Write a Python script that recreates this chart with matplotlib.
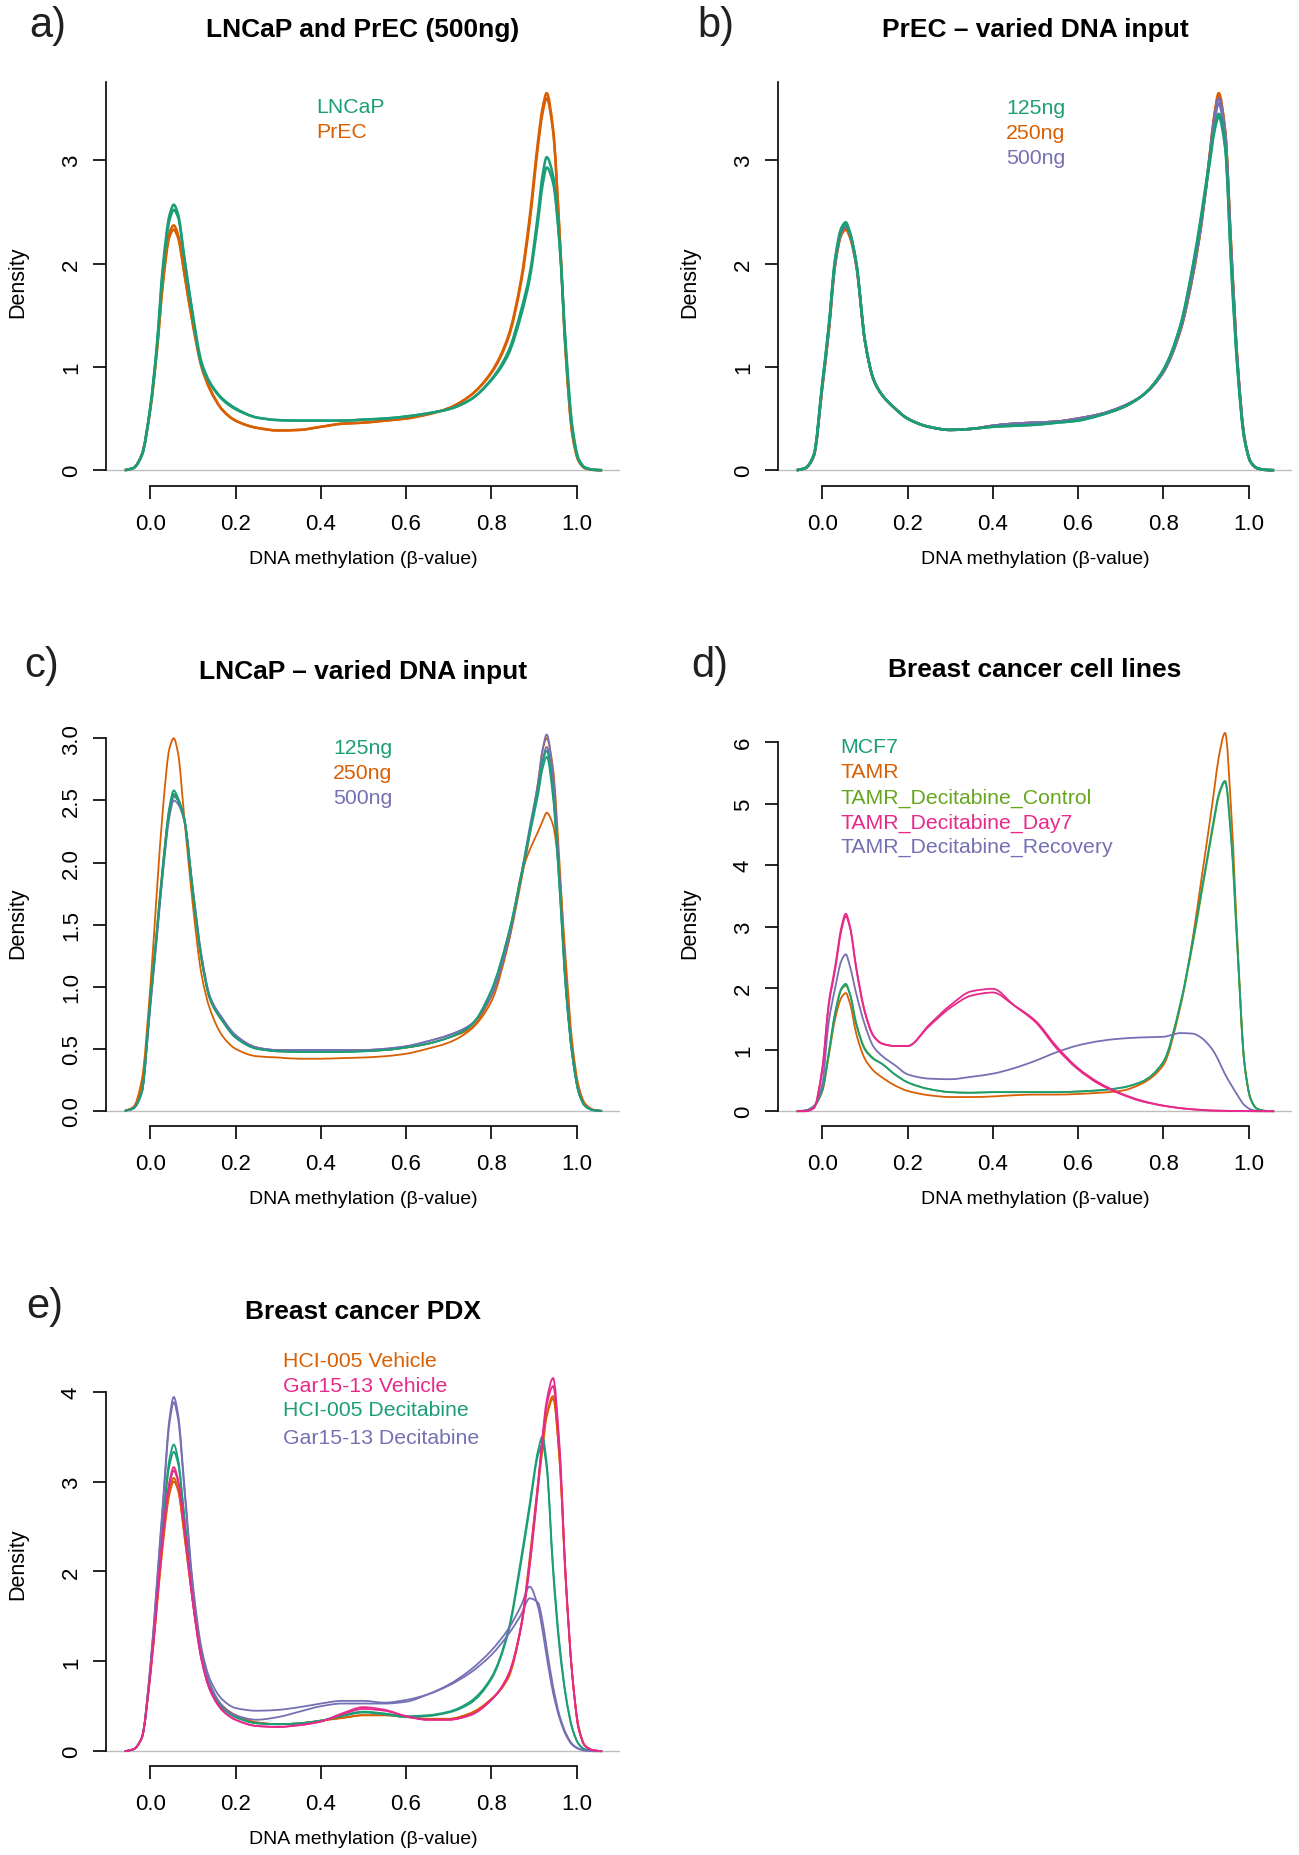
import numpy as np
import matplotlib.pyplot as plt
from matplotlib.path import Path
from matplotlib.patches import PathPatch

plt.rcParams['font.family'] = ['Liberation Sans', 'DejaVu Sans']

# beta-value grid shared by every density curve
beta = [-0.06, -0.04, -0.02, 0.0, 0.015, 0.03, 0.045, 0.055, 0.065, 0.08,
        0.1, 0.12, 0.14, 0.17, 0.2, 0.25, 0.3, 0.35, 0.4, 0.45,
        0.5, 0.55, 0.6, 0.65, 0.7, 0.75, 0.8, 0.84, 0.87, 0.89,
        0.91, 0.92, 0.93, 0.945, 0.96, 0.975, 0.99, 1.005, 1.02, 1.04, 1.06]

# a) LNCaP and PrEC (500ng)
a_lncap_1 = [0, 0.02, 0.15, 0.62, 1.2, 2.0, 2.47, 2.57, 2.48, 2.05,
             1.48, 1.02, 0.84, 0.68, 0.59, 0.51, 0.485, 0.48, 0.48, 0.48,
             0.49, 0.5, 0.52, 0.55, 0.59, 0.68, 0.88, 1.15, 1.55, 1.9,
             2.5, 2.85, 3.03, 2.85, 2.2, 1.15, 0.4, 0.1, 0.025, 0.004, 0]
a_lncap_2 = [0, 0.02, 0.14, 0.6, 1.17, 1.95, 2.42, 2.52, 2.45, 2.05,
             1.5, 1.05, 0.85, 0.69, 0.6, 0.51, 0.485, 0.48, 0.48, 0.48,
             0.49, 0.5, 0.52, 0.55, 0.59, 0.68, 0.87, 1.12, 1.5, 1.85,
             2.42, 2.75, 2.93, 2.78, 2.2, 1.2, 0.43, 0.11, 0.027, 0.004, 0]
a_prec_1 = [0, 0.02, 0.15, 0.6, 1.15, 1.85, 2.3, 2.37, 2.28, 1.9,
            1.4, 1.0, 0.78, 0.58, 0.48, 0.41, 0.385, 0.39, 0.42, 0.45,
            0.46, 0.48, 0.5, 0.54, 0.6, 0.72, 0.95, 1.3, 1.85, 2.45,
            3.2, 3.5, 3.65, 3.3, 2.3, 1.1, 0.35, 0.09, 0.02, 0.003, 0]
a_prec_2 = [0, 0.02, 0.15, 0.59, 1.13, 1.82, 2.26, 2.33, 2.25, 1.9,
            1.42, 1.02, 0.79, 0.58, 0.48, 0.41, 0.385, 0.39, 0.42, 0.45,
            0.46, 0.48, 0.5, 0.54, 0.6, 0.72, 0.94, 1.28, 1.82, 2.4,
            3.15, 3.45, 3.6, 3.28, 2.32, 1.12, 0.36, 0.09, 0.02, 0.003, 0]

# b) PrEC - varied DNA input
b_125_1 = [0, 0.02, 0.15, 0.85, 1.4, 2.05, 2.35, 2.4, 2.3, 2.0,
           1.25, 0.88, 0.73, 0.6, 0.5, 0.42, 0.39, 0.4, 0.42, 0.43,
           0.44, 0.46, 0.48, 0.53, 0.6, 0.72, 0.97, 1.4, 2.0, 2.5,
           3.05, 3.3, 3.45, 3.15, 1.9, 0.92, 0.3, 0.08, 0.02, 0.003, 0]
b_125_2 = [0, 0.02, 0.15, 0.84, 1.38, 2.03, 2.33, 2.38, 2.29, 2.0,
           1.26, 0.88, 0.73, 0.6, 0.5, 0.42, 0.39, 0.4, 0.42, 0.43,
           0.44, 0.46, 0.48, 0.53, 0.6, 0.72, 0.97, 1.4, 1.98, 2.47,
           3.0, 3.28, 3.42, 3.12, 1.95, 0.95, 0.32, 0.08, 0.02, 0.003, 0]
b_250_1 = [0, 0.02, 0.14, 0.8, 1.33, 1.98, 2.28, 2.33, 2.25, 1.97,
           1.25, 0.88, 0.73, 0.6, 0.5, 0.42, 0.39, 0.4, 0.43, 0.45,
           0.46, 0.47, 0.5, 0.54, 0.6, 0.72, 0.95, 1.35, 1.9, 2.4,
           3.1, 3.45, 3.65, 3.3, 2.1, 1.0, 0.33, 0.08, 0.02, 0.003, 0]
b_250_2 = [0, 0.02, 0.14, 0.81, 1.35, 2.0, 2.3, 2.35, 2.27, 1.98,
           1.25, 0.88, 0.73, 0.6, 0.5, 0.42, 0.39, 0.4, 0.43, 0.45,
           0.46, 0.47, 0.5, 0.54, 0.6, 0.72, 0.95, 1.35, 1.9, 2.4,
           3.08, 3.43, 3.62, 3.28, 2.1, 1.0, 0.33, 0.08, 0.02, 0.003, 0]
b_500_1 = [0, 0.02, 0.14, 0.82, 1.36, 2.0, 2.31, 2.36, 2.28, 1.98,
           1.25, 0.88, 0.73, 0.6, 0.5, 0.42, 0.39, 0.4, 0.43, 0.45,
           0.46, 0.47, 0.5, 0.54, 0.61, 0.72, 0.95, 1.36, 1.92, 2.42,
           3.08, 3.42, 3.6, 3.27, 2.05, 0.98, 0.32, 0.08, 0.02, 0.003, 0]
b_500_2 = [0, 0.02, 0.14, 0.82, 1.37, 2.01, 2.32, 2.37, 2.29, 1.99,
           1.25, 0.88, 0.73, 0.6, 0.5, 0.42, 0.39, 0.4, 0.43, 0.45,
           0.46, 0.47, 0.5, 0.54, 0.61, 0.72, 0.95, 1.36, 1.92, 2.42,
           3.05, 3.38, 3.55, 3.22, 2.05, 0.98, 0.32, 0.08, 0.02, 0.003, 0]

# c) LNCaP - varied DNA input
c_125_1 = [0, 0.02, 0.15, 0.9, 1.45, 2.0, 2.45, 2.58, 2.52, 2.35,
           1.75, 1.22, 0.9, 0.72, 0.59, 0.5, 0.48, 0.475, 0.475, 0.475,
           0.48, 0.49, 0.51, 0.54, 0.59, 0.68, 0.97, 1.42, 1.9, 2.25,
           2.6, 2.8, 2.9, 2.55, 1.8, 0.97, 0.45, 0.15, 0.04, 0.005, 0]
c_125_2 = [0, 0.02, 0.15, 0.88, 1.42, 1.97, 2.42, 2.55, 2.5, 2.34,
           1.76, 1.23, 0.9, 0.72, 0.59, 0.5, 0.48, 0.475, 0.475, 0.475,
           0.48, 0.49, 0.51, 0.54, 0.59, 0.68, 0.97, 1.42, 1.88, 2.22,
           2.55, 2.75, 2.85, 2.52, 1.8, 0.98, 0.46, 0.15, 0.04, 0.005, 0]
c_250_1 = [0, 0.03, 0.25, 1.0, 1.75, 2.45, 2.92, 3.0, 2.88, 2.35,
           1.65, 1.1, 0.82, 0.6, 0.5, 0.44, 0.43, 0.42, 0.42, 0.425,
           0.43, 0.44, 0.46, 0.5, 0.55, 0.65, 0.88, 1.35, 1.9, 2.1,
           2.25, 2.33, 2.4, 2.3, 1.9, 1.2, 0.55, 0.2, 0.06, 0.01, 0]
c_250_2 = [0, 0.03, 0.2, 0.9, 1.45, 2.0, 2.43, 2.55, 2.5, 2.33,
           1.75, 1.22, 0.9, 0.72, 0.6, 0.51, 0.48, 0.48, 0.48, 0.48,
           0.485, 0.49, 0.51, 0.54, 0.59, 0.66, 0.92, 1.35, 1.85, 2.22,
           2.65, 2.9, 3.0, 2.75, 2.0, 1.1, 0.5, 0.18, 0.05, 0.008, 0]
c_500_1 = [0, 0.02, 0.15, 0.85, 1.4, 1.95, 2.4, 2.53, 2.5, 2.35,
           1.78, 1.25, 0.92, 0.74, 0.61, 0.51, 0.49, 0.49, 0.49, 0.49,
           0.49, 0.5, 0.52, 0.56, 0.61, 0.69, 0.93, 1.38, 1.9, 2.28,
           2.65, 2.9, 3.03, 2.7, 1.9, 1.0, 0.45, 0.15, 0.04, 0.005, 0]
c_500_2 = [0, 0.02, 0.15, 0.84, 1.38, 1.93, 2.37, 2.5, 2.47, 2.33,
           1.78, 1.25, 0.92, 0.74, 0.61, 0.51, 0.49, 0.49, 0.49, 0.49,
           0.49, 0.5, 0.52, 0.56, 0.61, 0.69, 0.93, 1.37, 1.88, 2.25,
           2.6, 2.82, 2.93, 2.62, 1.85, 1.0, 0.45, 0.15, 0.04, 0.005, 0]

# d) Breast cancer cell lines
d_mcf7 = [0, 0.01, 0.08, 0.35, 0.95, 1.6, 2.0, 2.07, 1.9, 1.4,
          1.0, 0.85, 0.77, 0.6, 0.47, 0.36, 0.31, 0.3, 0.31, 0.31,
          0.31, 0.31, 0.32, 0.34, 0.38, 0.48, 0.8, 1.75, 2.8, 3.6,
          4.4, 4.8, 5.15, 5.37, 4.35, 2.5, 0.8, 0.2, 0.04, 0.005, 0]
d_tamr = [0, 0.01, 0.08, 0.33, 0.9, 1.5, 1.85, 1.92, 1.75, 1.25,
          0.85, 0.66, 0.55, 0.42, 0.33, 0.26, 0.23, 0.23, 0.24, 0.26,
          0.27, 0.27, 0.28, 0.3, 0.33, 0.45, 0.75, 1.7, 2.85, 3.8,
          4.75, 5.25, 5.75, 6.15, 4.8, 2.6, 0.8, 0.2, 0.04, 0.005, 0]
d_control = [0, 0.01, 0.08, 0.34, 0.93, 1.58, 1.98, 2.04, 1.9, 1.42,
             1.02, 0.86, 0.77, 0.6, 0.47, 0.36, 0.31, 0.3, 0.31, 0.31,
             0.31, 0.31, 0.32, 0.34, 0.38, 0.48, 0.8, 1.72, 2.75, 3.55,
             4.35, 4.75, 5.12, 5.35, 4.4, 2.55, 0.82, 0.2, 0.04, 0.005, 0]
d_day7_1 = [0, 0, 0.05, 0.7, 1.75, 2.35, 3.0, 3.21, 3.0, 2.3,
            1.6, 1.22, 1.1, 1.06, 1.06, 1.4, 1.72, 1.95, 1.99, 1.72,
            1.45, 1.02, 0.68, 0.44, 0.28, 0.16, 0.09, 0.05, 0.03, 0.02,
            0.012, 0.01, 0.008, 0.006, 0.004, 0.003, 0.002, 0.001, 0, 0, 0]
d_day7_2 = [0, 0, 0.05, 0.68, 1.72, 2.3, 2.95, 3.17, 2.98, 2.32,
            1.62, 1.23, 1.1, 1.06, 1.06, 1.38, 1.68, 1.88, 1.93, 1.72,
            1.47, 1.05, 0.7, 0.46, 0.29, 0.17, 0.09, 0.05, 0.03, 0.02,
            0.012, 0.01, 0.008, 0.006, 0.004, 0.003, 0.002, 0.001, 0, 0, 0]
d_recovery = [0, 0.01, 0.08, 0.45, 1.45, 2.0, 2.45, 2.55, 2.35, 1.9,
              1.4, 1.05, 0.9, 0.75, 0.6, 0.53, 0.52, 0.56, 0.61, 0.7,
              0.82, 0.96, 1.07, 1.14, 1.18, 1.2, 1.21, 1.27, 1.26, 1.19,
              1.05, 0.95, 0.82, 0.6, 0.42, 0.25, 0.1, 0.03, 0.005, 0, 0]

# e) Breast cancer PDX
e_hci_veh_1 = [0, 0.02, 0.15, 0.85, 1.6, 2.35, 2.9, 3.04, 2.92, 2.4,
               1.65, 1.05, 0.72, 0.5, 0.4, 0.32, 0.3, 0.31, 0.34, 0.37,
               0.4, 0.4, 0.38, 0.36, 0.36, 0.42, 0.58, 0.82, 1.4, 2.15,
               3.0, 3.4, 3.75, 3.95, 3.25, 1.85, 0.85, 0.27, 0.06, 0.01, 0]
e_hci_veh_2 = [0, 0.02, 0.15, 0.84, 1.58, 2.32, 2.86, 3.0, 2.9, 2.4,
               1.65, 1.05, 0.72, 0.5, 0.4, 0.32, 0.3, 0.31, 0.34, 0.37,
               0.4, 0.4, 0.38, 0.36, 0.36, 0.42, 0.58, 0.82, 1.38, 2.1,
               2.95, 3.35, 3.72, 3.92, 3.25, 1.9, 0.85, 0.27, 0.06, 0.01, 0]
e_gar_veh_1 = [0, 0.02, 0.15, 0.87, 1.65, 2.45, 3.0, 3.16, 3.02, 2.5,
               1.65, 1.02, 0.68, 0.45, 0.35, 0.28, 0.27, 0.29, 0.33, 0.42,
               0.49, 0.46, 0.39, 0.35, 0.35, 0.4, 0.57, 0.85, 1.4, 2.1,
               3.0, 3.5, 3.9, 4.15, 3.4, 1.9, 0.85, 0.25, 0.06, 0.01, 0]
e_gar_veh_2 = [0, 0.02, 0.15, 0.86, 1.63, 2.42, 2.97, 3.12, 3.0, 2.48,
               1.65, 1.02, 0.68, 0.45, 0.35, 0.28, 0.27, 0.29, 0.33, 0.41,
               0.47, 0.45, 0.39, 0.35, 0.35, 0.4, 0.57, 0.85, 1.38, 2.05,
               2.95, 3.45, 3.85, 4.06, 3.35, 1.9, 0.85, 0.25, 0.06, 0.01, 0]
e_hci_dec_1 = [0, 0.02, 0.15, 0.9, 1.75, 2.6, 3.25, 3.41, 3.25, 2.6,
               1.7, 1.05, 0.7, 0.48, 0.38, 0.31, 0.3, 0.31, 0.34, 0.4,
               0.44, 0.42, 0.39, 0.4, 0.44, 0.55, 0.82, 1.35, 2.15, 2.75,
               3.35, 3.5, 3.2, 2.0, 1.15, 0.6, 0.25, 0.08, 0.02, 0.003, 0]
e_hci_dec_2 = [0, 0.02, 0.15, 0.89, 1.72, 2.55, 3.18, 3.33, 3.2, 2.58,
               1.7, 1.05, 0.7, 0.48, 0.38, 0.31, 0.3, 0.31, 0.34, 0.39,
               0.43, 0.41, 0.38, 0.39, 0.43, 0.53, 0.8, 1.32, 2.1, 2.7,
               3.3, 3.41, 3.15, 2.05, 1.2, 0.62, 0.26, 0.08, 0.02, 0.003, 0]
e_gar_dec_1 = [0, 0.02, 0.15, 0.95, 1.85, 2.8, 3.7, 3.94, 3.75, 2.95,
               1.85, 1.15, 0.8, 0.57, 0.48, 0.45, 0.46, 0.49, 0.53, 0.56,
               0.56, 0.54, 0.57, 0.63, 0.73, 0.87, 1.07, 1.3, 1.52, 1.7,
               1.65, 1.45, 1.15, 0.72, 0.4, 0.2, 0.08, 0.03, 0.008, 0, 0]
e_gar_dec_2 = [0, 0.02, 0.15, 0.93, 1.82, 2.75, 3.65, 3.88, 3.7, 2.9,
               1.8, 1.1, 0.75, 0.5, 0.4, 0.35, 0.38, 0.44, 0.5, 0.53,
               0.53, 0.53, 0.55, 0.63, 0.74, 0.9, 1.12, 1.36, 1.62, 1.83,
               1.6, 1.35, 1.05, 0.65, 0.37, 0.18, 0.07, 0.025, 0.006, 0, 0]

# RColorBrewer Dark2
teal, orange, purple, pink, green = '#1B9E77', '#D95F02', '#7570B3', '#E7298A', '#66A61E'

W, H = 1299, 1856
fig = plt.figure(figsize=(W / 100, H / 100), dpi=100)

XLIM = (-0.104, 1.102)
PLOT_W = 514


def fx(x):
    return x / W


def fy(y):
    return 1 - y / H


def density_path(x, y):
    # monotone cubic (PCHIP-style) Bezier through the sampled densities
    x = np.asarray(x, float)
    y = np.asarray(y, float)
    h = np.diff(x)
    d = np.diff(y) / h
    m = np.zeros_like(y)
    m[0], m[-1] = d[0], d[-1]
    for k in range(1, len(y) - 1):
        if d[k - 1] * d[k] > 0:
            w1 = 2 * h[k] + h[k - 1]
            w2 = h[k] + 2 * h[k - 1]
            m[k] = (w1 + w2) / (w1 / d[k - 1] + w2 / d[k])
    verts = [(x[0], y[0])]
    codes = [Path.MOVETO]
    for k in range(len(x) - 1):
        verts += [(x[k] + h[k] / 3, y[k] + m[k] * h[k] / 3),
                  (x[k + 1] - h[k] / 3, y[k + 1] - m[k + 1] * h[k] / 3),
                  (x[k + 1], y[k + 1])]
        codes += [Path.CURVE4] * 3
    return Path(verts, codes)


def panel(left, zero_y, unit_y, ylim, ytop, yticks, ylabels, curves, lw,
          title, letter, letter_xy, legend, legend_x, legend_y):
    bottom = zero_y - ylim[0] * unit_y
    top = zero_y - ylim[1] * unit_y
    ax = fig.add_axes([fx(left), fy(bottom), PLOT_W / W, (bottom - top) / H])
    ax.set_xlim(*XLIM)
    ax.set_ylim(*ylim)
    ax.axhline(0, color='#BEBEBE', lw=1.0, zorder=1)
    for vals, col in curves:
        ax.add_patch(PathPatch(density_path(beta, vals), fill=False,
                               edgecolor=col, lw=lw, zorder=2))

    for s in ['top', 'right']:
        ax.spines[s].set_visible(False)
    ax.spines['left'].set_bounds(0, ytop)
    ax.spines['bottom'].set_bounds(0, 1)
    for s in ['left', 'bottom']:
        ax.spines[s].set_linewidth(1.2)
    ax.tick_params(direction='out', length=9.4, width=1.2, labelsize=16)
    ax.tick_params(axis='x', pad=10)
    ax.tick_params(axis='y', pad=8)
    ax.set_xticks([0, 0.2, 0.4, 0.6, 0.8, 1.0],
                  ['0.0', '0.2', '0.4', '0.6', '0.8', '1.0'])
    ax.set_yticks(yticks, ylabels, rotation=90, va='center')

    cx = left + PLOT_W / 2
    fig.text(fx(cx), fy(top - 42), title, ha='center', va='baseline',
             fontsize=19, fontweight='bold')
    fig.text(fx(letter_xy[0]), fy(letter_xy[1]), letter, ha='left',
             va='baseline', fontsize=30, color='#231F20')
    fig.text(fx(cx), fy(bottom + 77), 'DNA methylation (\u03b2-value)',
             ha='center', va='baseline', fontsize=14)
    fig.text(fx(left - 88), fy((top + bottom) / 2), 'Density', rotation=90,
             ha='center', va='center', fontsize=15.5)
    for (txt, col), ly in zip(legend, legend_y):
        fig.text(fx(legend_x), fy(ly), txt, color=col, ha='left',
                 va='baseline', fontsize=15.3)
    return ax


panel(106, 471.2, 103.3, (-0.149, 3.80), 3.76, [0, 1, 2, 3],
      ['0', '1', '2', '3'],
      [(a_prec_1, orange), (a_prec_2, orange),
       (a_lncap_1, teal), (a_lncap_2, teal)], 1.8,
      'LNCaP and PrEC (500ng)', 'a)', (29, 37),
      [('LNCaP', teal), ('PrEC', orange)], 316.7, [113, 138])

panel(778, 471.2, 103.3, (-0.149, 3.80), 3.76, [0, 1, 2, 3],
      ['0', '1', '2', '3'],
      [(b_250_1, orange), (b_250_2, orange), (b_500_1, purple),
       (b_500_2, purple), (b_125_1, teal), (b_125_2, teal)], 1.8,
      'PrEC \u2013 varied DNA input', 'b)', (697, 37),
      [('125ng', teal), ('250ng', orange), ('500ng', purple)], 1006.3,
      [114, 139, 164])

panel(106, 1111.9, 124.2, (-0.121, 3.151), 3.0,
      [0, 0.5, 1, 1.5, 2, 2.5, 3],
      ['0.0', '0.5', '1.0', '1.5', '2.0', '2.5', '3.0'],
      [(c_250_1, orange), (c_250_2, orange), (c_500_1, purple),
       (c_500_2, purple), (c_125_1, teal), (c_125_2, teal)], 1.3,
      'LNCaP \u2013 varied DNA input', 'c)', (24, 677),
      [('125ng', teal), ('250ng', orange), ('500ng', purple)], 333.3,
      [754, 779, 804.5])

panel(778, 1112.2, 61.5, (-0.246, 6.396), 6, [0, 1, 2, 3, 4, 5, 6],
      ['0', '1', '2', '3', '4', '5', '6'],
      [(d_tamr, orange), (d_control, green), (d_mcf7, teal),
       (d_recovery, purple), (d_day7_1, pink), (d_day7_2, pink)], 1.3,
      'Breast cancer cell lines', 'd)', (691, 677),
      [('MCF7', teal), ('TAMR', orange), ('TAMR_Decitabine_Control', green),
       ('TAMR_Decitabine_Day7', pink), ('TAMR_Decitabine_Recovery', purple)],
      840.7, [753, 778.5, 803.5, 829, 852.5])

panel(106, 1752.2, 89.9, (-0.167, 4.347), 4, [0, 1, 2, 3, 4],
      ['0', '1', '2', '3', '4'],
      [(e_hci_veh_1, orange), (e_hci_veh_2, orange), (e_hci_dec_1, teal),
       (e_hci_dec_2, teal), (e_gar_dec_1, purple), (e_gar_dec_2, purple),
       (e_gar_veh_1, pink), (e_gar_veh_2, pink)], 1.3,
      'Breast cancer PDX', 'e)', (26, 1318),
      [('HCI-005 Vehicle', orange), ('Gar15-13 Vehicle', pink),
       ('HCI-005 Decitabine', teal), ('Gar15-13 Decitabine', purple)],
      282.7, [1367.5, 1391.5, 1416.5, 1444])

fig.savefig('out.png', dpi=100)
